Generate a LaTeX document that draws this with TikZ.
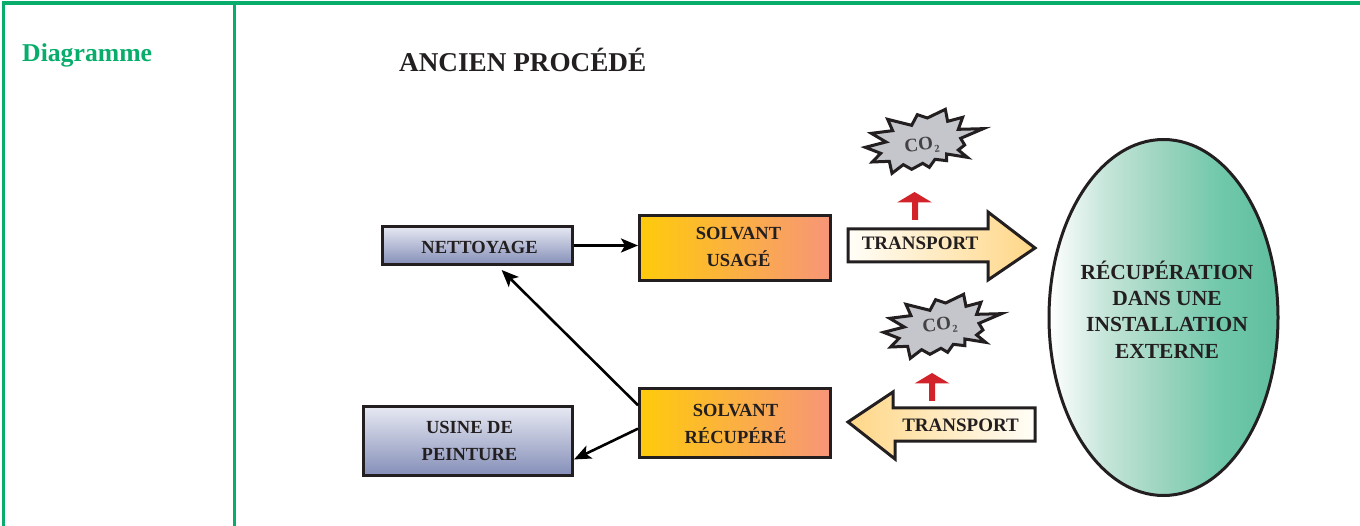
\documentclass[tikz,border=0pt]{standalone}
\usepackage{fontspec}
\setmainfont{Liberation Serif}
\usetikzlibrary{arrows.meta,calc}
\definecolor{grn}{HTML}{08AD6C}
\definecolor{ink}{HTML}{231F20}
\definecolor{redar}{HTML}{D2232A}
\definecolor{bluetop}{HTML}{E6E8F2}
\definecolor{bluegrey}{HTML}{858FB8}
\definecolor{orA}{HTML}{FFCB0B}
\definecolor{orB}{HTML}{F79578}
\definecolor{burstgrey}{HTML}{C4C6CC}
\definecolor{trA}{HTML}{FFFEF8}
\definecolor{trB}{HTML}{FFD686}
\definecolor{elB}{HTML}{C5E5D9}
\definecolor{elC}{HTML}{9AD4BF}
\definecolor{elD}{HTML}{70C8AA}
\definecolor{elE}{HTML}{5FBE9E}
\pgfdeclarehorizontalshading{elshade}{100bp}{
  color(0bp)=(white); color(25bp)=(white);
  color(37.5bp)=(elB);
  color(50bp)=(elC);
  color(62.5bp)=(elD);
  color(75bp)=(elE);
  color(100bp)=(elE)}
\newcommand{\burst}{(76,172) -- (138,156) -- (94,130) -- (158,122) -- (143,88) -- (215,106) -- (232,74) -- (262,84) -- (316,58) -- (323,94) -- (368,82) -- (355,118) -- (430,116) -- (362,145) -- (374,165) -- (355,180) -- (382,202) -- (320,192) -- (320,212) -- (285,208) -- (268,232) -- (248,220) -- (215,238) -- (190,224) -- (156,250) -- (148,214) -- (97,216) -- (122,190) -- cycle}
\tikzset{
  frameline/.style={draw=grn,line width=3.6pt},
  boxblue/.style={draw=ink,line width=3pt,top color=bluetop,bottom color=bluegrey,inner sep=0pt},
  boxorange/.style={draw=ink,line width=3pt,left color=orA,right color=orB,inner sep=0pt},
  lbl/.style={font=\bfseries\fontsize{18.5}{27}\selectfont,text=ink,align=center,inner sep=0pt},
  translbl/.style={font=\bfseries\fontsize{19}{23}\selectfont,text=ink,inner sep=0pt},
  bigarrow/.style={draw=ink,line width=3pt,miter limit=10},
  conn/.style={draw=black,line width=2.6pt,-{Stealth[length=17pt,width=14pt,inset=4pt]}},
  co/.style={font=\bfseries\fontsize{19}{20}\selectfont,text=ink!85!white,inner sep=0pt},
  burststyle/.style={draw=ink,fill=burstgrey,line width=3pt,miter limit=10},
  redarrow/.style={fill=redar,draw=none}
}
\newcommand{\cotwo}{CO\kern1pt\raisebox{-3.5pt}{\fontsize{10.5}{11}\selectfont 2}}
\begin{document}
\begin{tikzpicture}[x=1pt,y=-1pt]
\useasboundingbox (0,0) rectangle (1360,526);
% frame
\draw[frameline] (3.4,526) -- (3.4,3.2) -- (1360,3.2);
\draw[frameline] (234.3,3.2) -- (234.3,526);
\node[anchor=base west,inner sep=0pt,text=grn,font=\bfseries\fontsize{25.7}{30}\selectfont] (diag) at (22,62) {Diagramme};
\node[anchor=base west,inner sep=0pt,text=ink,font=\bfseries\fontsize{27.2}{30}\selectfont] (title) at (399,72) {ANCIEN PROCÉDÉ};
% boxes
\node[boxblue,minimum width=190pt,minimum height=38pt] (nett) at (477.5,245.5) {};
\node[lbl] (nettT) at (479.5,247.5) {NETTOYAGE};
\node[boxblue,minimum width=209pt,minimum height=68pt] (usine) at (468,441) {};
\node[lbl] (usineT) at (469.5,441) {USINE DE\\PEINTURE};
\node[boxorange,minimum width=191pt,minimum height=65pt] (usage) at (735,248) {};
\node[lbl] (usageT) at (738.5,247) {SOLVANT\\USAGÉ};
\node[boxorange,minimum width=191pt,minimum height=68pt] (recup) at (735,423) {};
\node[lbl] (recupT) at (735.5,424) {SOLVANT\\RÉCUPÉRÉ};
% ellipse
\draw[draw=ink,line width=3pt,shading=elshade] (1163.5,317.5) ellipse [x radius=114.5pt,y radius=178pt];
\node[font=\bfseries\fontsize{21.5}{26.4}\selectfont,text=ink,align=center,inner sep=0pt] (ext) at (1167,309.5) {RÉCUPÉRATION\\DANS UNE\\INSTALLATION\\EXTERNE};
% transport arrows
\draw[bigarrow,left color=trA,right color=trB] (848,229) -- (988,229) -- (988,212) -- (1035,248) -- (988,280) -- (988,262) -- (848,262) -- cycle;
\node[translbl] (t1) at (920,243.5) {TRANSPORT};
\draw[bigarrow,left color=trB,right color=trA] (1035,408) -- (893,408) -- (893,392) -- (848,422) -- (895,459) -- (895,441) -- (1035,441) -- cycle;
\node[translbl] (t2) at (960.5,425.5) {TRANSPORT};
% red arrows
\fill[redarrow] (914.5,192) -- (932,202.5) -- (918,202.5) -- (918,220) -- (912,220) -- (912,202.5) -- (897,202.5) -- cycle;
\fill[redarrow] (932,373) -- (949.5,383.5) -- (935,383.5) -- (935,401) -- (929,401) -- (929,383.5) -- (914.5,383.5) -- cycle;
% bursts
\begin{scope}[shift={(840,90)},x=0.3333pt,y=-0.3333pt]
\draw[burststyle] \burst;
\end{scope}
\begin{scope}[shift={(858.3,275)},x=0.3333pt,y=-0.3333pt]
\draw[burststyle] \burst;
\end{scope}
\node[co,rotate=6] (co1) at (922,146) {\cotwo};
\node[co,rotate=6] (co2) at (940,326) {\cotwo};
% connectors
\draw[conn] (nett.east) -- (nett.east -| usage.west);
\coordinate (c1) at ($(recup.north west)!0.25!(recup.south west)$);
\coordinate (c2) at ($(recup.north west)!0.58!(recup.south west)$);
\coordinate (e1) at ($(nett.south west)!0.625!(nett.south east)+(0,4)$);
\coordinate (e2) at ($(usine.north east)!0.76!(usine.south east)$);
\draw[conn] (c1) -- (e1);
\draw[conn] (c2) -- (e2);
\end{tikzpicture}
\end{document}
